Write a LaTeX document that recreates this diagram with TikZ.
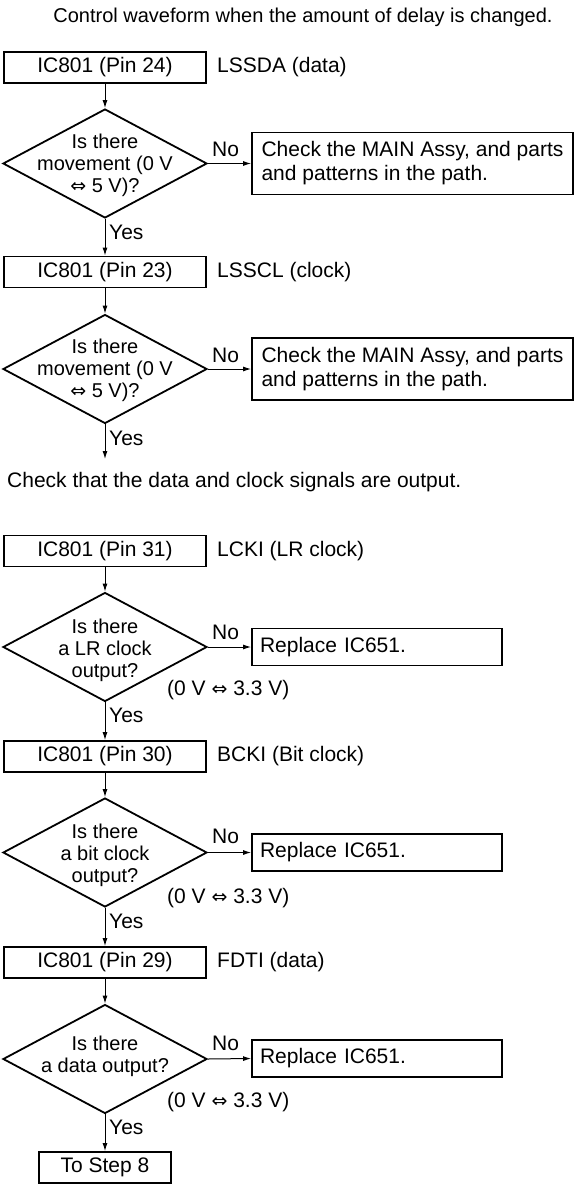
\documentclass[tikz,border=0pt]{standalone}
\usepackage{fontspec}
\setmainfont{Liberation Sans}
\newfontfamily\symf{DejaVu Sans}
\usetikzlibrary{shapes.geometric,arrows.meta}
\newcommand{\lrsym}{{\symf\fontsize{19}{19}\selectfont ⇔}}
\begin{document}
\begin{tikzpicture}[x=1pt,y=-1pt,
  every node/.style={font=\fontsize{21}{24}\selectfont},
  pinbox/.style={draw, line width=1.8pt, minimum width=202pt, minimum height=31pt, inner sep=0pt},
  dia/.style={draw, diamond, line width=1.8pt, minimum width=204pt, minimum height=109pt, inner sep=0pt},
  dtext/.style={align=center, inner sep=0pt, font=\fontsize{20}{22}\selectfont},
  chkbox/.style={draw, line width=1.8pt, minimum width=321pt, inner sep=0pt, minimum height=62pt, align=left, font=\fontsize{21}{24}\selectfont},
  repbox/.style={draw, line width=1.8pt, text width=234pt, inner xsep=8pt, inner ysep=0pt, minimum height=37pt, align=left},
  lbl/.style={inner sep=0pt, anchor=west},
  arr/.style={-{Latex[length=8pt,width=5pt]}, line width=1pt}
]
\useasboundingbox (0,0) rectangle (581,1188);
\fill[white] (0,0) rectangle (581,1188);

\node[inner sep=0pt, font=\fontsize{20}{24}\selectfont] (t1) at (303,17) {Control waveform when the amount of delay is changed.};

% first block
\node[pinbox] (b1) at (105,67.5) {IC801 (Pin 24)};
\node[lbl] (l1) at (217,67.5) {LSSDA (data)};
\node[dia] (d1) at (105,163.5) {};
\node[dtext] (d1t) at (105,165) {Is there\\movement (0 V\\\lrsym\ 5 V)?};
\node[chkbox] (c1) at (412.5,163.5) {Check the MAIN Assy, and parts\\and patterns in the path.};
\node[lbl] (n1) at (212,149) {No};
\node[lbl] (y1) at (109,232) {Yes};

\node[pinbox] (b2) at (105,272) {IC801 (Pin 23)};
\node[lbl] (l2) at (217,272) {LSSCL (clock)};
\node[dia] (d2) at (105,369) {};
\node[dtext] (d2t) at (105,370.5) {Is there\\movement (0 V\\\lrsym\ 5 V)?};
\node[chkbox] (c2) at (412.5,369) {Check the MAIN Assy, and parts\\and patterns in the path.};
\node[lbl] (n2) at (212,355) {No};
\node[lbl] (y2) at (109,438) {Yes};
\coordinate (e2) at (105,459);

\draw[arr] (b1) -- (d1);
\draw[arr] (d1.east) -- (c1.west);
\draw[arr] (d1) -- (b2);
\draw[arr] (b2) -- (d2);
\draw[arr] (d2.east) -- (c2.west);
\draw[arr] (d2) -- (e2);

\node[lbl] (t2) at (7,482) {Check that the data and clock signals are output.};

% second block
\node[pinbox] (b3) at (105,551) {IC801 (Pin 31)};
\node[lbl] (l3) at (217,551) {LCKI (LR clock)};
\node[dia] (d3) at (105,647) {};
\node[dtext] (d3t) at (105,650) {Is there\\a LR clock\\output?};
\node[repbox] (r3) at (377,647) {Replace IC651.};
\node[lbl] (n3) at (212,632) {No};
\node[lbl] (v3) at (167,690) {(0 V \lrsym\ 3.3 V)};
\node[lbl] (y3) at (109,715) {Yes};

\node[pinbox] (b4) at (105,756.5) {IC801 (Pin 30)};
\node[lbl] (l4) at (217,756.5) {BCKI (Bit clock)};
\node[dia] (d4) at (105,852.5) {};
\node[dtext] (d4t) at (105,855) {Is there\\a bit clock\\output?};
\node[repbox] (r4) at (377,852.5) {Replace IC651.};
\node[lbl] (n4) at (212,836) {No};
\node[lbl] (v4) at (167,898) {(0 V \lrsym\ 3.3 V)};
\node[lbl] (y4) at (109,921) {Yes};

\node[pinbox] (b5) at (105,962.5) {IC801 (Pin 29)};
\node[lbl] (l5) at (217,962.5) {FDTI (data)};
\node[dia] (d5) at (105,1059) {};
\node[dtext] (d5t) at (105,1056) {Is there\\a data output?};
\node[repbox] (r5) at (377,1058.5) {Replace IC651.};
\node[lbl] (n5) at (212,1043) {No};
\node[lbl] (v5) at (167,1102) {(0 V \lrsym\ 3.3 V)};
\node[lbl] (y5) at (109,1127) {Yes};

\node[pinbox, minimum width=132pt] (s8) at (105,1167.5) {To Step 8};

\draw[arr] (b3) -- (d3);
\draw[arr] (d3.east) -- (r3.west);
\draw[arr] (d3) -- (b4);
\draw[arr] (b4) -- (d4);
\draw[arr] (d4.east) -- (r4.west);
\draw[arr] (d4) -- (b5);
\draw[arr] (b5) -- (d5);
\draw[arr] (d5.east) -- (r5.west);
\draw[arr] (d5) -- (s8);
\end{tikzpicture}
\end{document}
